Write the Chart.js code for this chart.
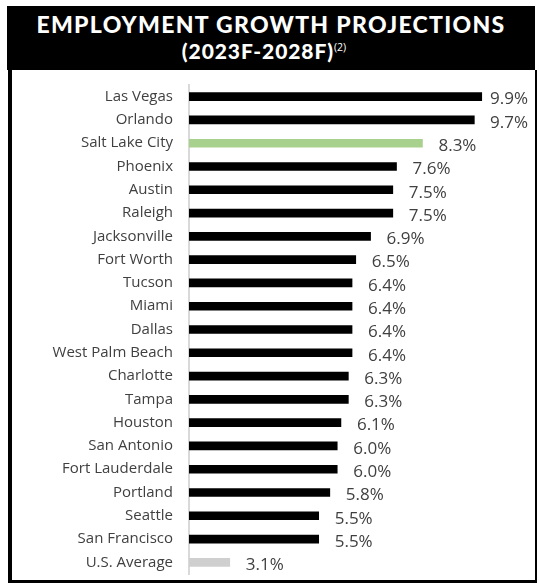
<!DOCTYPE html>
<html>
<head>
<meta charset="utf-8">
<script src="https://cdn.jsdelivr.net/npm/chart.js@4.4.1/dist/chart.umd.min.js"></script>
<style>
  html, body { margin: 0; padding: 0; background: #fff; overflow: hidden; }
  #wrap { position: relative; width: 539px; height: 585px; overflow: hidden; }
  #header { position: absolute; left: 7px; top: 6px; width: 528px; height: 64px; background: #000; }
  .t1, .t2 { position: absolute; left: 0; width: 100%; text-align: center; color: #fff;
             font-family: "Lato", sans-serif; font-weight: 900; white-space: nowrap; }
  .t1 { top: 2px; font-size: 23px; line-height: 32px; letter-spacing: 1.3px; }
  .t2 { top: 27px; font-size: 21px; line-height: 28px; letter-spacing: 0.9px; box-sizing: border-box; padding-right: 14px; }
  .t2 sup { font-family: "Open Sans", sans-serif; font-weight: 400; font-size: 10.5px; letter-spacing: 0; vertical-align: 8px; }
  #frame { position: absolute; left: 8px; top: 70px; width: 523px; height: 510px;
           border-left: 4px solid #000; border-right: 2px solid #000; border-bottom: 3px solid #000; }
  canvas { position: absolute; left: 0; top: 0; }
</style>
</head>
<body>
<div id="wrap">
  <div id="header">
    <div class="t1">EMPLOYMENT GROWTH PROJECTIONS</div>
    <div class="t2">(2023F-2028F)<sup>(2)</sup></div>
  </div>
  <div id="frame"></div>
  <canvas id="chart" width="539" height="599"></canvas>
</div>
<script>
// Projected employment growth by metro, 2023F-2028F (%)
const cities = [
  "Las Vegas", "Orlando", "Salt Lake City", "Phoenix", "Austin", "Raleigh",
  "Jacksonville", "Fort Worth", "Tucson", "Miami", "Dallas", "West Palm Beach",
  "Charlotte", "Tampa", "Houston", "San Antonio", "Fort Lauderdale", "Portland",
  "Seattle", "San Francisco", "U.S. Average"
];
const growth = [
  9.9, 9.7, 8.3, 7.6, 7.5, 7.5,
  6.9, 6.5, 6.4, 6.4, 6.4, 6.4,
  6.3, 6.3, 6.1, 6.0, 6.0, 5.8,
  5.5, 5.5, 3.1
];
const highlightCity = "Salt Lake City";
const benchmark = "U.S. Average";

const barColors = cities.map(c =>
  c === highlightCity ? "#a9d18e" : (c === benchmark ? "#cfcfcf" : "#000000"));

// Value labels just past each bar end, kept inside the frame
const valueLabels = {
  id: "valueLabels",
  afterDatasetsDraw(chart) {
    const ctx = chart.ctx;
    const meta = chart.getDatasetMeta(0);
    ctx.save();
    ctx.font = '17px "Open Sans", sans-serif';
    ctx.fillStyle = "#404040";
    ctx.textAlign = "left";
    ctx.textBaseline = "middle";
    meta.data.forEach((bar, i) => {
      const x = Math.min(bar.x + 16, 490);
      ctx.fillText(growth[i].toFixed(1) + "%", x, bar.y + 3);
    });
    ctx.restore();
  }
};

new Chart(document.getElementById("chart"), {
  type: "bar",
  data: {
    labels: cities,
    datasets: [{
      data: growth,
      backgroundColor: barColors,
      barThickness: 8,
      borderWidth: 0
    }]
  },
  options: {
    indexAxis: "y",
    responsive: false,
    animation: false,
    layout: { padding: { top: 85, bottom: 0, right: 16.5, left: 0 } },
    plugins: { legend: { display: false }, tooltip: { enabled: false } },
    scales: {
      x: { display: false, min: 2, max: 11 },
      y: {
        grid: { display: false, drawTicks: false },
        border: { display: true, color: "#d9d9d9", width: 2 },
        afterFit(scale) { scale.width = 189; },
        ticks: {
          padding: 16,
          color: "#404040",
          font: { family: "Open Sans", size: 15 }
        }
      }
    }
  },
  plugins: [valueLabels]
});
</script>
</body>
</html>
